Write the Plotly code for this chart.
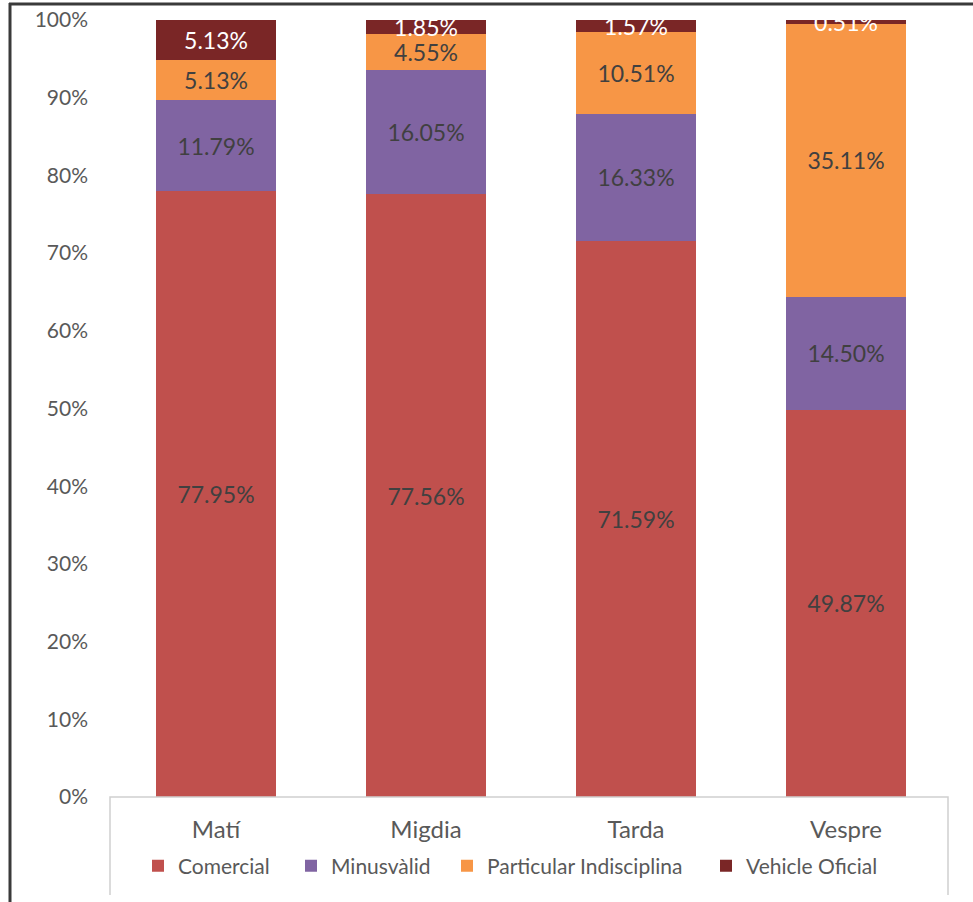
import plotly.graph_objects as go

W, H = 973, 902

categories = ["Matí", "Migdia", "Tarda", "Vespre"]
series_names = ["Comercial", "Minusvàlid", "Particular Indisciplina", "Vehicle Oficial"]
comercial = [77.95, 77.56, 71.59, 49.87]
minusvalid = [11.79, 16.05, 16.33, 14.50]
particular = [5.13, 4.55, 10.51, 35.11]
vehicle_oficial = [5.13, 1.85, 1.57, 0.51]
y_ticks = [0, 10, 20, 30, 40, 50, 60, 70, 80, 90, 100]

values = [comercial, minusvalid, particular, vehicle_oficial]
colors = ["#C0504D", "#8064A2", "#F79646", "#7A2626"]
label_colors = ["#404040", "#404040", "#404040", "#FFFFFF"]
legend_ids = ["legend", "legend2", "legend3", "legend4"]
legend_px = [160, 313, 469, 728]  # symbol centre positions

FONT = "Lato, 'Open Sans', sans-serif"

fig = go.Figure()
for name, vals, col, lc, lid in zip(series_names, values, colors, label_colors, legend_ids):
    fig.add_trace(go.Bar(
        x=categories, y=vals, name=name, legend=lid,
        marker=dict(color=col, line=dict(width=0)),
        text=[f"{v:.2f}%" for v in vals],
        textposition="inside", insidetextanchor="middle", textangle=0,
        textfont=dict(color=lc, size=23, family=FONT),
        constraintext="none",
        hoverinfo="skip",
    ))

px_left, px_right = 111, 951
px_top, px_bottom = 20, 797

def fx(px):
    return px / W

def fy(py):
    return 1 - py / H

shapes = [
    dict(type="line", xref="paper", yref="paper", x0=fx(9), x1=1.0, y0=fy(4), y1=fy(4),
         line=dict(color="#3a3a3a", width=3)),
    dict(type="line", xref="paper", yref="paper", x0=fx(10), x1=fx(10), y0=fy(3), y1=0,
         line=dict(color="#3a3a3a", width=3)),
    dict(type="path", xref="paper", yref="paper",
         path=f"M {fx(110)},{fy(895)} L {fx(110)},{fy(797)} L {fx(948)},{fy(797)} L {fx(948)},{fy(895)}",
         line=dict(color="#D0D0D0", width=1.5)),
]

legend_common = dict(orientation="h", yanchor="middle", y=fy(866), xanchor="left",
                     font=dict(size=21, color="#595959", family=FONT),
                     itemwidth=30, bgcolor="rgba(0,0,0,0)")
legends = {}
for lid, p in zip(legend_ids, legend_px):
    legends[lid] = dict(legend_common, x=fx(p - 22))

fig.update_layout(
    width=W, height=H,
    margin=dict(l=0, r=0, t=0, b=0, autoexpand=False),
    paper_bgcolor="white", plot_bgcolor="white",
    barmode="stack", bargap=0.43,
    font=dict(family=FONT, color="#595959", size=21),
    uniformtext=dict(minsize=23, mode="show"),
    showlegend=True,
    xaxis=dict(domain=[fx(px_left), fx(px_right)], showgrid=False, showline=False,
               zeroline=False, ticks="", ticklabelstandoff=16, automargin=False,
               tickfont=dict(size=24, color="#595959", family=FONT)),
    yaxis=dict(domain=[fy(px_bottom), fy(px_top)], range=[0, 100], tickvals=y_ticks,
               ticktext=[f"{t}%" for t in y_ticks], showgrid=False, showline=False,
               zeroline=False, ticks="", ticklabelstandoff=22, automargin=False,
               tickfont=dict(size=21, color="#595959", family=FONT)),
    shapes=shapes,
    **legends,
)

fig.write_html("out.html", config={"displayModeBar": False},
               post_script="document.body.style.margin='0px';")
